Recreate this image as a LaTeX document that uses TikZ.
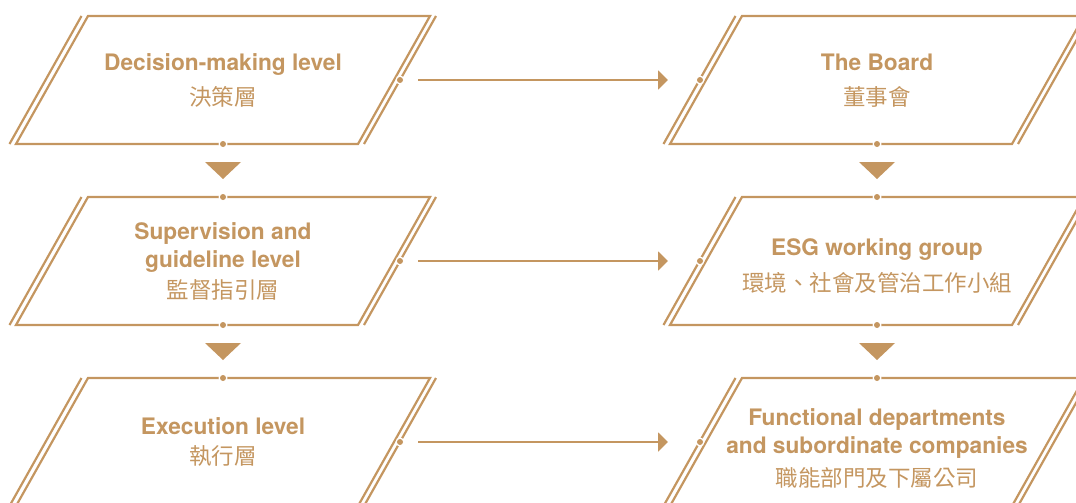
\documentclass[tikz,border=0pt]{standalone}
\usepackage{fontspec}
\setmainfont{TeX Gyre Heros}
\newfontfamily\cjkfont{Noto Sans CJK TC}
\usetikzlibrary{arrows.meta,calc}

\definecolor{levelgold}{RGB}{196,150,96}

\tikzset{
    levelline/.style={draw=levelgold, line width=2.2pt},
    leveltext/.style={text=levelgold, align=center, inner sep=0pt,
        font=\fontsize{22.7}{28}\selectfont\bfseries},
    flowarrow/.style={draw=levelgold, line width=2pt,
        -{Triangle[length=10pt,width=19pt]}, shorten <=18pt, shorten >=32pt},
    downmark/.style={fill=levelgold},
}
\newcommand{\zh}[1]{{\cjkfont\mdseries\fontsize{22.5}{28}\selectfont #1}}
\newcommand{\leveldot}[1]{%
    \fill[white] (#1) circle (4.5pt);
    \fill[levelgold] (#1) circle (3pt);}

\begin{document}
\begin{tikzpicture}[x=1pt,y=-1pt]
    \useasboundingbox (0,0) rectangle (1076,503);
    \clip (0,0) rectangle (1076,503);

    % the six levels
    \foreach \nm/\cx/\cy in {dec/223/80, sup/223/261, exe/223/442,
                             board/877/80, esg/877/261, func/877/442} {
        \draw[levelline] (\cx-135,\cy-64) -- (\cx+207,\cy-64) -- (\cx+135,\cy+64) -- (\cx-207,\cy+64) -- cycle;
        \draw[levelline] (\cx-141.5,\cy-64) -- (\cx-213.5,\cy+64);
        \draw[levelline] (\cx+213,\cy-64) -- (\cx+141,\cy+64);
        \coordinate (\nm-t) at (\cx,\cy-64);
        \coordinate (\nm-b) at (\cx,\cy+64);
        \coordinate (\nm-l) at (\cx-177,\cy);
        \coordinate (\nm-r) at (\cx+177,\cy);
    }

    \node[leveltext] (dec-text) at (223,80.5) {Decision-making level\\[7pt]\zh{決策層}};
    \node[leveltext] (sup-text) at (223,261) {Supervision and\\guideline level\\[3pt]\zh{監督指引層}};
    \node[leveltext] (exe-text) at (223,442) {Execution level\\[2pt]\zh{執行層}};

    \node[leveltext] (board-text) at (877,80.5) {The Board\\[7pt]\zh{董事會}};
    \node[leveltext] (esg-text) at (877,266) {ESG working group\\[8pt]\zh{環境、社會及管治工作小組}};
    \node[leveltext] (func-text) at (877,448.5) {Functional departments\\and subordinate companies\\[5pt]\zh{職能部門及下屬公司}};

    % left to right
    \draw[flowarrow] (dec-r) -- (board-l);
    \draw[flowarrow] (sup-r) -- (esg-l);
    \draw[flowarrow] (exe-r) -- (func-l);

    % top to bottom
    \foreach \a/\b in {dec/sup, sup/exe, board/esg, esg/func} {
        \fill[downmark] ($(\a-b)!.5!(\b-t)+(-18,-8.5)$) -- ($(\a-b)!.5!(\b-t)+(18,-8.5)$) -- ($(\a-b)!.5!(\b-t)+(0,8.5)$) -- cycle;
        \leveldot{\a-b}
        \leveldot{\b-t}
    }
    \foreach \a/\b in {dec/board, sup/esg, exe/func} {
        \leveldot{\a-r}
        \leveldot{\b-l}
    }

\end{tikzpicture}
\end{document}
